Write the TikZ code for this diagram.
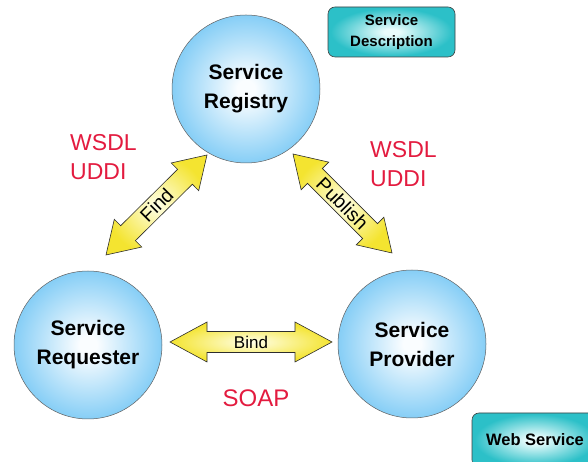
\documentclass[tikz,border=0pt]{standalone}
\usepackage{fontspec}
\setmainfont{Liberation Sans}
\usetikzlibrary{calc}

\definecolor{skyedge}{HTML}{86CEF6}
\definecolor{skycore}{HTML}{FAFDFF}
\definecolor{tealedge}{HTML}{2CC0C8}
\definecolor{tealcore}{HTML}{EAFCFC}
\definecolor{ylwedge}{HTML}{F4E430}
\definecolor{ylwcore}{HTML}{FFFFEA}
\definecolor{tagred}{HTML}{E31B3F}

% soft radial fills: pale centre fading evenly to the rim
\pgfdeclareradialshading{skyball}{\pgfpoint{0bp}{0bp}}{%
  color(0bp)=(skycore); color(3bp)=(skycore); color(25bp)=(skyedge); color(50bp)=(skyedge)}
\pgfdeclareradialshading{tealpad}{\pgfpoint{0bp}{0bp}}{%
  color(0bp)=(tealcore); color(3bp)=(tealcore); color(24bp)=(tealedge); color(50bp)=(tealedge)}

\tikzset{
  role/.style={circle, minimum size=148pt, inner sep=0pt, draw=gray!75!black,
    line width=0.5pt, shading=skyball,
    font=\fontsize{21}{29}\selectfont\bfseries, align=center},
  tagbox/.style={rounded corners=7pt, draw=gray!50!black, line width=0.6pt,
    shading=tealpad,
    font=\fontsize{15}{21}\selectfont\bfseries, align=center},
  proto/.style={text=tagred, font=\fontsize{23}{29}\selectfont, align=left,
    inner sep=0pt},
  fatarrow/.style={draw=gray!35!black, line width=0.6pt, inner color=ylwcore,
    outer color=ylwedge, line join=miter},
  verb/.style={font=\fontsize{17}{19}\selectfont, inner sep=0pt},
  slantverb/.style={font=\fontsize{19.5}{21}\selectfont, inner sep=0pt},
}

% double-headed block arrow between two named points:
% #1,#2 tips, #3 head length, #4 head half width, #5 body half width
\newcommand\twowayarrow[5]{%
  \path[fatarrow] (#1)
    -- ($(#1)!#3!(#2)!#4!-90:(#2)$)
    -- ($(#1)!#3!(#2)!#5!-90:(#2)$)
    -- ($(#2)!#3!(#1)!#5!90:(#1)$)
    -- ($(#2)!#3!(#1)!#4!90:(#1)$)
    -- (#2)
    -- ($(#2)!#3!(#1)!#4!-90:(#1)$)
    -- ($(#2)!#3!(#1)!#5!-90:(#1)$)
    -- ($(#1)!#3!(#2)!#5!90:(#2)$)
    -- ($(#1)!#3!(#2)!#4!90:(#2)$)
    -- cycle;}

\begin{document}
\begin{tikzpicture}[x=1pt,y=1pt]
  \useasboundingbox (0,0) rectangle (588,462);

  % the three roles
  \node[role] (reg)  at (246,373) {Service\\Registry};
  \node[role] (req)  at (88,117)  {Service\\Requester};
  \node[role] (prov) at (412,118) {Service\\Provider};

  % arrow end points
  \coordinate (find1) at (106,207);
  \coordinate (find2) at (207,307);
  \coordinate (pub1)  at (293,308);
  \coordinate (pub2)  at (392,209);
  \coordinate (bind1) at (170,120);
  \coordinate (bind2) at (332,120);

  \twowayarrow{find1}{find2}{31pt}{19.5pt}{10.5pt}
  \twowayarrow{pub1}{pub2}{31pt}{19.5pt}{10.5pt}
  \twowayarrow{bind1}{bind2}{37pt}{20pt}{10.5pt}

  \node[slantverb, rotate=45]  (findlbl) at ($(find1)!0.5!(find2)$) {Find};
  \node[slantverb, rotate=-45] (publbl)  at ($(pub1)!0.5!(pub2)$) {Publish};
  \node[verb]                  (bindlbl) at ($(bind1)!0.5!(bind2)$) {Bind};

  % protocol tags
  \node[proto, anchor=west] (wsdlL) at (70,304.5) {WSDL\\UDDI};
  \node[proto, anchor=west] (wsdlR) at (370,297.5) {WSDL\\UDDI};
  \node[proto, font=\fontsize{24}{29}\selectfont] (soap) at (256,64) {SOAP};

  % legend boxes
  \node[tagbox, minimum width=127pt, minimum height=50pt] (desc) at (391.5,430)
    {Service\\Description};
  \begin{scope}
    \clip (0,0) rectangle (588,462);
    \node[tagbox, minimum width=126pt, minimum height=54pt,
      font=\fontsize{16.5}{21}\selectfont\bfseries] (ws) at (535,22)
      {Web Service};
  \end{scope}
\end{tikzpicture}
\end{document}
